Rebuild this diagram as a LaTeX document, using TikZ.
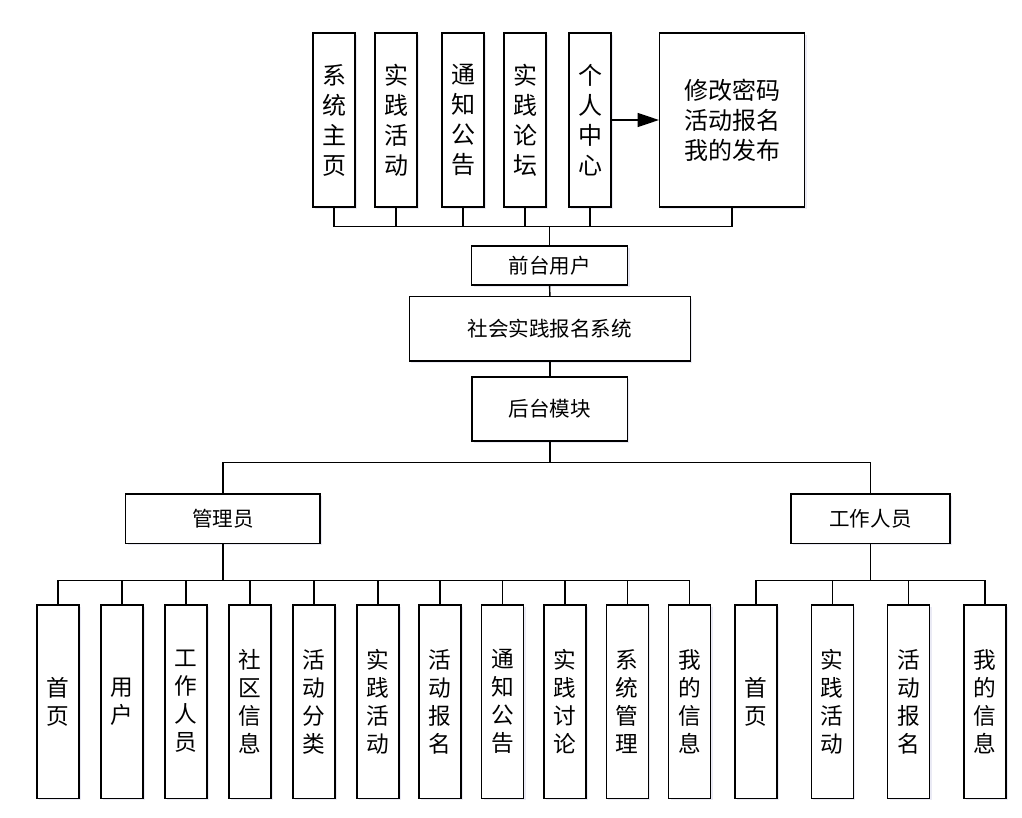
\documentclass[tikz,border=0pt]{standalone}
\usepackage{fontspec}
\newfontfamily\cjk{Noto Sans CJK SC}
\usetikzlibrary{arrows.meta,shadows}

\begin{document}
\begin{tikzpicture}[x=0.75pt,y=-0.75pt,
   box/.style={rectangle, draw, line width=1.1pt, fill=white, inner sep=0pt, align=center,
     drop shadow={shadow xshift=1.5pt, shadow yshift=-1.5pt, opacity=0.12, fill=blue!35!gray}},
   topbox/.style={box, minimum width=31.5pt, minimum height=130.5pt,
     font={\cjk\fontsize{18pt}{22.5pt}\selectfont}},
   midbox/.style={box, minimum height=48.2pt, font={\cjk\fontsize{15.4pt}{18pt}\selectfont}},
   leaf/.style={box, minimum width=31.5pt, minimum height=145pt,
     font={\cjk\fontsize{17pt}{21pt}\selectfont}},
   link/.style={line width=1.1pt}]
  \useasboundingbox (0,0) rectangle (1022,818);
  % front-end modules
  \node[topbox] (home) at (334,120) {系\\统\\主\\页};
  \node[topbox] (pract) at (396,120) {实\\践\\活\\动};
  \node[topbox] (notice) at (463,120) {通\\知\\公\\告};
  \node[topbox] (forum) at (525,120) {实\\践\\论\\坛};
  \node[topbox] (center) at (590,120) {个\\人\\中\\心};
  \node[topbox, minimum width=108.75pt] (mine) at (732.2,120) {修改密码\\活动报名\\我的发布};
  \node[midbox, minimum width=117pt, minimum height=29.25pt] (front) at (549.7,265.5) {前台用户};
  \node[midbox, minimum width=210.75pt] (sys) at (549.8,328.8) {社会实践报名系统};
  \node[midbox, minimum width=116.5pt] (back) at (549.8,408.9) {后台模块};
  \node[midbox, minimum width=145.7pt, minimum height=37pt] (admin) at (222.8,518.7) {管理员};
  \node[midbox, minimum width=119.25pt, minimum height=37pt] (staff) at (870.5,518.7) {工作人员};
  % admin modules
  \node[leaf] (a1) at (58,701.7) {首\\页};
  \node[leaf] (a2) at (122,701.7) {用\\户};
  \node[leaf] (a3) at (186,701.7) {工\\作\\人\\员};
  \node[leaf] (a4) at (249.8,701.7) {社\\区\\信\\息};
  \node[leaf] (a5) at (313.8,701.7) {活\\动\\分\\类};
  \node[leaf] (a6) at (377.8,701.7) {实\\践\\活\\动};
  \node[leaf] (a7) at (440.2,701.7) {活\\动\\报\\名};
  \node[leaf] (a8) at (502.5,701.7) {通\\知\\公\\告};
  \node[leaf] (a9) at (565,701.7) {实\\践\\讨\\论};
  \node[leaf] (a10) at (627.3,701.7) {系\\统\\管\\理};
  \node[leaf] (a11) at (689.7,701.7) {我\\的\\信\\息};
  % staff modules
  \node[leaf] (s1) at (756.2,701.7) {首\\页};
  \node[leaf] (s2) at (832.3,701.7) {实\\践\\活\\动};
  \node[leaf] (s3) at (908.7,701.7) {活\\动\\报\\名};
  \node[leaf] (s4) at (985,701.7) {我\\的\\信\\息};
  % buses
  \coordinate (busf) at (549.7,226.7);
  \coordinate (busb) at (549.8,462.3);
  \coordinate (busa) at (222.8,580.7);
  \coordinate (buss) at (870.5,580.7);
  % links
  \draw[link] (home.south) |- (busf);
  \draw[link] (pract.south) |- (busf);
  \draw[link] (notice.south) |- (busf);
  \draw[link] (forum.south) |- (busf);
  \draw[link] (center.south) |- (busf);
  \draw[link] (mine.south) |- (busf);
  \draw[link] (busf) -- (front.north);
  \draw[link,-{Triangle[length=16pt,width=10.5pt]}] (center.east) -- (mine.west);
  \draw[link] (front.south) -- (sys.north);
  \draw[link] (sys.south) -- (back.north);
  \draw[link] (back.south) -- (busb);
  \draw[link] (admin.north) |- (busb);
  \draw[link] (staff.north) |- (busb);
  \draw[link] (admin.south) -- (busa);
  \draw[link] (staff.south) -- (buss);
  \draw[link] (a1.north) |- (busa);
  \draw[link] (a2.north) |- (busa);
  \draw[link] (a3.north) |- (busa);
  \draw[link] (a4.north) |- (busa);
  \draw[link] (a5.north) |- (busa);
  \draw[link] (a6.north) |- (busa);
  \draw[link] (a7.north) |- (busa);
  \draw[link] (a8.north) |- (busa);
  \draw[link] (a9.north) |- (busa);
  \draw[link] (a10.north) |- (busa);
  \draw[link] (a11.north) |- (busa);
  \draw[link] (s1.north) |- (buss);
  \draw[link] (s2.north) |- (buss);
  \draw[link] (s3.north) |- (buss);
  \draw[link] (s4.north) |- (buss);
\end{tikzpicture}
\end{document}
